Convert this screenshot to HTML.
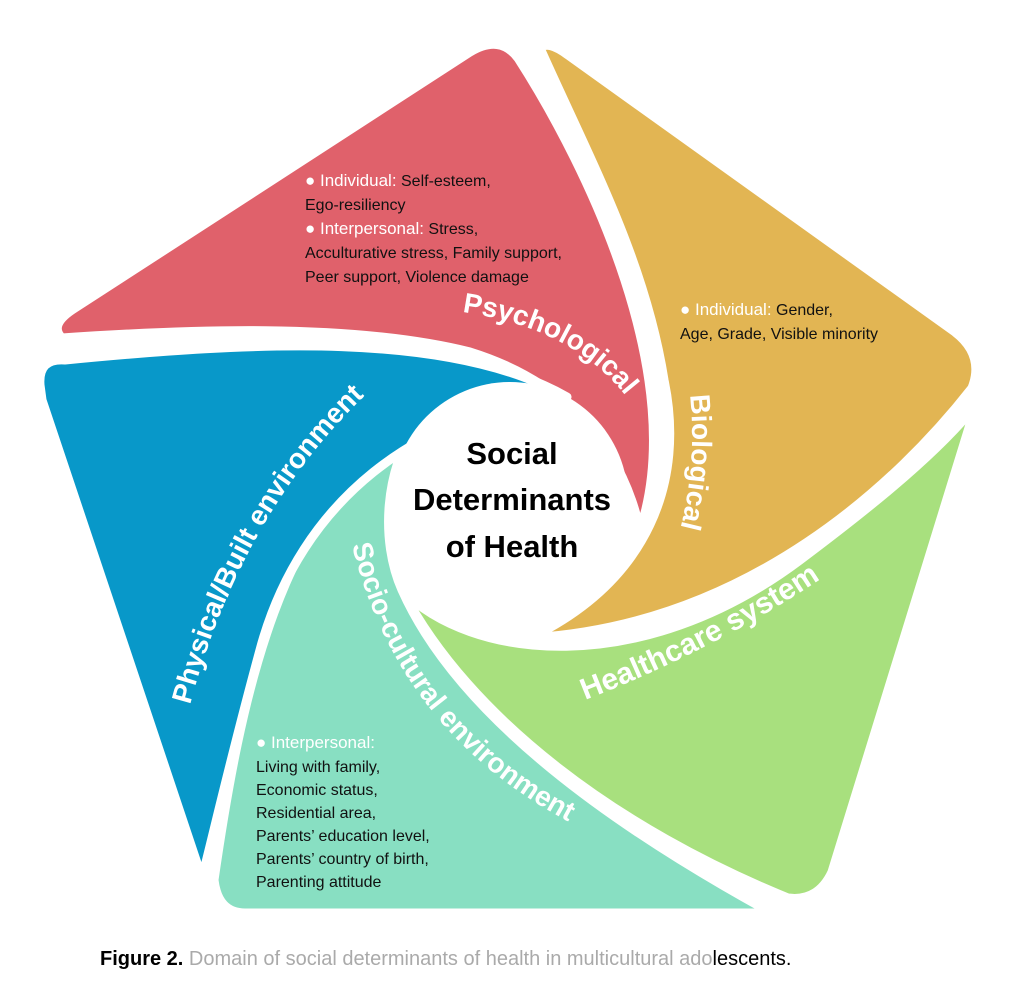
<!DOCTYPE html>
<html><head><meta charset="utf-8"><style>
html,body{margin:0;padding:0;background:#fff;}
svg{display:block}
</style></head><body>
<svg width="1012" height="1003" viewBox="0 0 1012 1003" xmlns="http://www.w3.org/2000/svg" font-family="Liberation Sans, DejaVu Sans, sans-serif">
<defs>
<path id="pPsy" d="M 462,312 Q 590,330 642,420"/>
<path id="pBio" d="M 690,395 Q 700,490 662,585"/>
<path id="pHc" d="M 585,700 Q 740,640 865,548"/>
<path id="pPhy" d="M 190,705 Q 250,480 415,352"/>
<path id="pSoc" d="M 352,545 Q 400,740 585,830"/>
</defs>
<g stroke="#fff" stroke-width="9" stroke-linejoin="round">
<path fill="#e0616b" d="M 62,338 Q 48,325 75,308 L 470,52 Q 500,34 518,58 C 590,170 690,380 640,530 C 620,440 560,380 470,352 C 350,322 180,330 62,338 Z"/>
<path fill="#e2b553" d="M 540,48 Q 548,40 568,55 L 955,332 Q 985,355 972,388 C 900,480 750,625 530,638 C 650,580 685,480 664,380 C 645,260 590,160 540,48 Z"/>
<path fill="#a8e07e" d="M 976,405 L 832,872 Q 818,902 788,898 C 620,830 470,720 402,590 C 470,660 640,680 800,560 C 880,500 940,450 976,405 Z"/>
<path fill="#88dfc2" d="M 772,913 L 245,913 Q 218,913 214,880 C 240,700 280,500 417,423 C 385,470 380,540 402,590 C 460,720 620,830 772,913 Z"/>
<path fill="#0898c9" d="M 40,385 Q 38,358 65,360 C 250,342 450,330 567,397 C 420,410 300,500 260,650 C 230,760 212,840 202,878 L 42,400 Z"/>
</g>
<circle cx="510" cy="500" r="118" fill="#fff"/>
<g fill="#fff" font-weight="bold" font-size="28">
<text><textPath href="#pPsy">Psychological</textPath></text>
<text><textPath href="#pBio">Biological</textPath></text>
<text font-size="30"><textPath href="#pHc">Healthcare system</textPath></text>
<text><textPath href="#pPhy">Physical/Built environment</textPath></text>
<text><textPath href="#pSoc">Socio-cultural environment</textPath></text>
</g>
<g font-weight="bold" font-size="31" text-anchor="middle" fill="#000">
<text x="512" y="464">Social</text>
<text x="512" y="510">Determinants</text>
<text x="512" y="557">of Health</text>
</g>
<g font-size="16" fill="#111">
<text x="305" y="186"><tspan fill="#fff" font-size="17">● Individual:</tspan> Self-esteem,</text>
<text x="305" y="210">Ego-resiliency</text>
<text x="305" y="234"><tspan fill="#fff" font-size="17">● Interpersonal:</tspan> Stress,</text>
<text x="305" y="258">Acculturative stress, Family support,</text>
<text x="305" y="282">Peer support, Violence damage</text>
<text x="680" y="315"><tspan fill="#fff" font-size="17">● Individual:</tspan> Gender,</text>
<text x="680" y="339">Age, Grade, Visible minority</text>
<text x="256" y="748"><tspan fill="#fff" font-size="17">● Interpersonal:</tspan></text>
<text x="256" y="772">Living with family,</text>
<text x="256" y="795">Economic status,</text>
<text x="256" y="818">Residential area,</text>
<text x="256" y="841">Parents’ education level,</text>
<text x="256" y="864">Parents’ country of birth,</text>
<text x="256" y="887">Parenting attitude</text>
</g>
<text x="100" y="965" font-size="20"><tspan font-weight="bold" fill="#000">Figure 2.</tspan><tspan fill="#aaa"> Domain of social determinants of health in multicultural ado</tspan><tspan fill="#000">lescents.</tspan></text>
</svg>
</body></html>
